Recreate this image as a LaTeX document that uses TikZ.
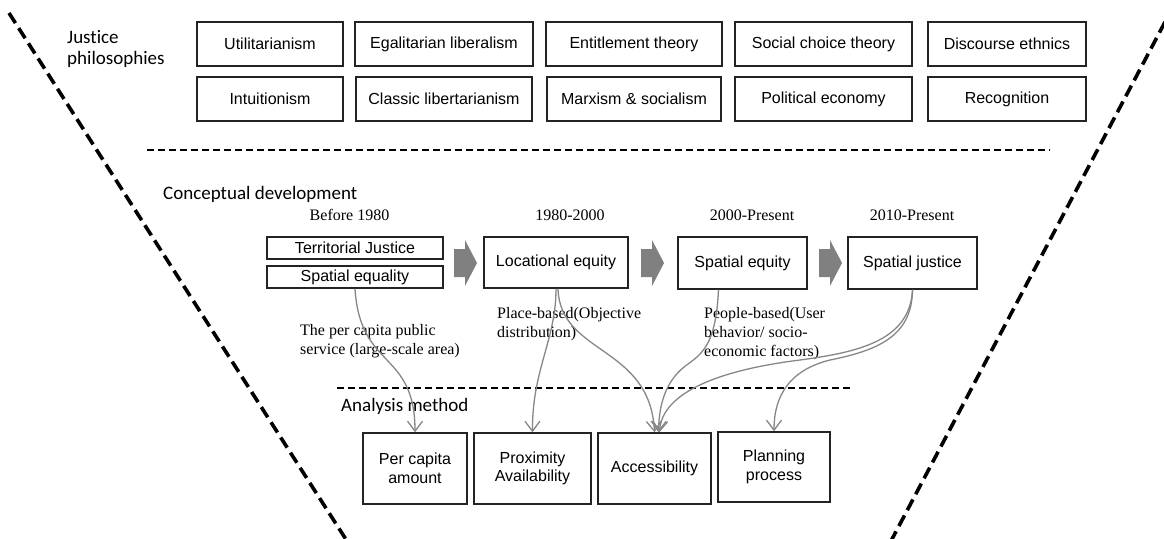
\documentclass[tikz,border=0pt]{standalone}
\usepackage{fontspec}
\setmainfont{Liberation Serif}
\newfontfamily\boxfont{Liberation Sans}
\newfontfamily\headfont[Ligatures=NoCommon]{Carlito}
\usetikzlibrary{arrows.meta}

\definecolor{edgeblack}{RGB}{35,35,35}
\definecolor{linkgray}{RGB}{135,135,135}
\definecolor{blockgray}{RGB}{128,128,128}

\tikzset{
  boxbase/.style={draw=edgeblack, line width=1.5pt, inner sep=0pt,
    font=\boxfont\fontsize{16}{18.5}\selectfont, align=center},
  philbox/.style={boxbase, minimum height=44pt},
  conceptbox/.style={boxbase},
  methodbox/.style={boxbase, minimum height=71pt},
  heading/.style={font=\headfont\fontsize{19}{21}\selectfont, inner sep=0pt, align=left},
  timelabel/.style={font=\fontsize{16}{19}\selectfont, inner sep=0pt},
  notelabel/.style={font=\fontsize{16}{19}\selectfont, inner sep=0pt, align=left, anchor=north west},
  link/.style={draw=linkgray, line width=1.3pt,
    -{Straight Barb[length=10pt,width=15pt,line width=1.3pt]}},
  borderline/.style={draw=black, line width=3.6pt, dash pattern=on 12pt off 6pt},
  dividerline/.style={draw=black, line width=1.8pt, dash pattern=on 7pt off 4pt},
  blockarrow/.pic={
    \fill[blockgray] (-23,-14) -- (-12,-14) -- (-12,-23) -- (0,0)
      -- (-12,23) -- (-12,14) -- (-23,14) -- cycle;
  }
}

\begin{document}
\begin{tikzpicture}[x=1pt,y=-1pt]
  \useasboundingbox (0,0) rectangle (1164,538);
  \fill[white] (0,0) rectangle (1164,538);

  % funnel outline
  \coordinate (funnelTL) at (9,13);
  \coordinate (funnelBL) at (347,541);
  \coordinate (funnelTR) at (1165,22);
  \coordinate (funnelBR) at (891,541);
  \draw[borderline] (funnelTL) -- (funnelBL);
  \draw[borderline] (funnelTR) -- (funnelBR);

  % dividers
  \coordinate (divAL) at (147,150);
  \coordinate (divAR) at (1050,150);
  \coordinate (divBL) at (337,388);
  \coordinate (divBR) at (851,388);
  \draw[dividerline] (divAL) -- (divAR);
  \draw[dividerline] (divBL) -- (divBR);

  % justice philosophies
  \node[heading, anchor=north west] (jphil) at (67,30) {Justice\\philosophies};

  \node[philbox, minimum width=146pt] (util)  at (270,44)   {Utilitarianism};
  \node[philbox, minimum width=178pt] (egal)  at (444,44)   {Egalitarian liberalism};
  \node[philbox, minimum width=176pt] (entit) at (634,44)   {Entitlement theory};
  \node[philbox, minimum width=177pt] (socch) at (823.5,44) {Social choice theory};
  \node[philbox, minimum width=158pt] (disc)  at (1007,44)  {Discourse ethnics};

  \node[philbox, minimum width=146pt] (intu)  at (270,99)   {Intuitionism};
  \node[philbox, minimum width=176pt] (clib)  at (444,99)   {Classic libertarianism};
  \node[philbox, minimum width=174pt] (marx)  at (634,99)   {Marxism \& socialism};
  \node[philbox, minimum width=177pt] (polec) at (823.5,99) {Political economy};
  \node[philbox, minimum width=158pt] (recog) at (1007,99)  {Recognition};

  % conceptual development
  \node[heading, anchor=base west] (cdev) at (163,199.5) {Conceptual development};

  \node[timelabel, anchor=base] (tBefore) at (349.5,220) {Before 1980};
  \node[timelabel, anchor=base] (tEighty) at (570,220)   {1980-2000};
  \node[timelabel, anchor=base] (tTwoK)   at (752,220)   {2000-Present};
  \node[timelabel, anchor=base] (tTwoTen) at (912,220)   {2010-Present};

  \node[conceptbox, minimum width=176pt, minimum height=22pt] (terr) at (355,248) {Territorial Justice};
  \node[conceptbox, minimum width=176pt, minimum height=22pt] (speq) at (355,277) {Spatial equality};
  \node[conceptbox, minimum width=144pt, minimum height=51pt] (loc)  at (556,262.5) {Locational equity};
  \node[conceptbox, minimum width=129pt, minimum height=52pt] (spe)  at (742.5,263) {Spatial equity};
  \node[conceptbox, minimum width=129pt, minimum height=52pt] (spj)  at (912.5,263) {Spatial justice};

  \pic at (477,263) {blockarrow};
  \pic at (664,263) {blockarrow};
  \pic at (842,263) {blockarrow};

  \node[notelabel] (notePer)    at (300,324) {The per capita public\\service (large-scale area)};
  \node[notelabel] (notePlace)  at (497,307) {Place-based(Objective\\distribution)};
  \node[notelabel] (notePeople) at (704,307) {People-based(User\\behavior/ socio-\\economic factors)};

  % analysis method
  \node[heading, anchor=base west] (amethod) at (341,411) {Analysis method};

  \node[methodbox, minimum width=104pt] (pc)   at (415,468.5)   {Per capita\\amount};
  \node[methodbox, minimum width=117pt] (prox) at (532.5,468.5) {Proximity\\Availability};
  \node[methodbox, minimum width=113pt] (acc)  at (654.5,468.5) {Accessibility};
  \node[methodbox, minimum width=112pt, minimum height=70pt] (plan) at (774,467) {Planning\\process};

  % links from concepts to methods
  \draw[link] (speq.south) .. controls (360,370) and (415,350) .. (pc.north);
  \draw[link] (loc.south) .. controls (556,340) and (532,370) .. (prox.north);
  \draw[link] ([xshift=2pt]loc.south) .. controls (560,355) and (650,345) .. (acc.north);
  \draw[link] ([xshift=-24pt]spe.south) .. controls (716,340) and (705,352) .. (688,364)
    .. controls (668,378) and (659,400) .. ([xshift=4pt]acc.north);
  \draw[link] (spj.south) .. controls (910,340) and (860,352) .. (800,360)
    .. controls (720,370) and (662,392) .. ([xshift=5pt]acc.north);
  \draw[link] (spj.south) .. controls (912,335) and (880,350) .. (830,360)
    .. controls (790,370) and (774,395) .. (plan.north);
\end{tikzpicture}
\end{document}
